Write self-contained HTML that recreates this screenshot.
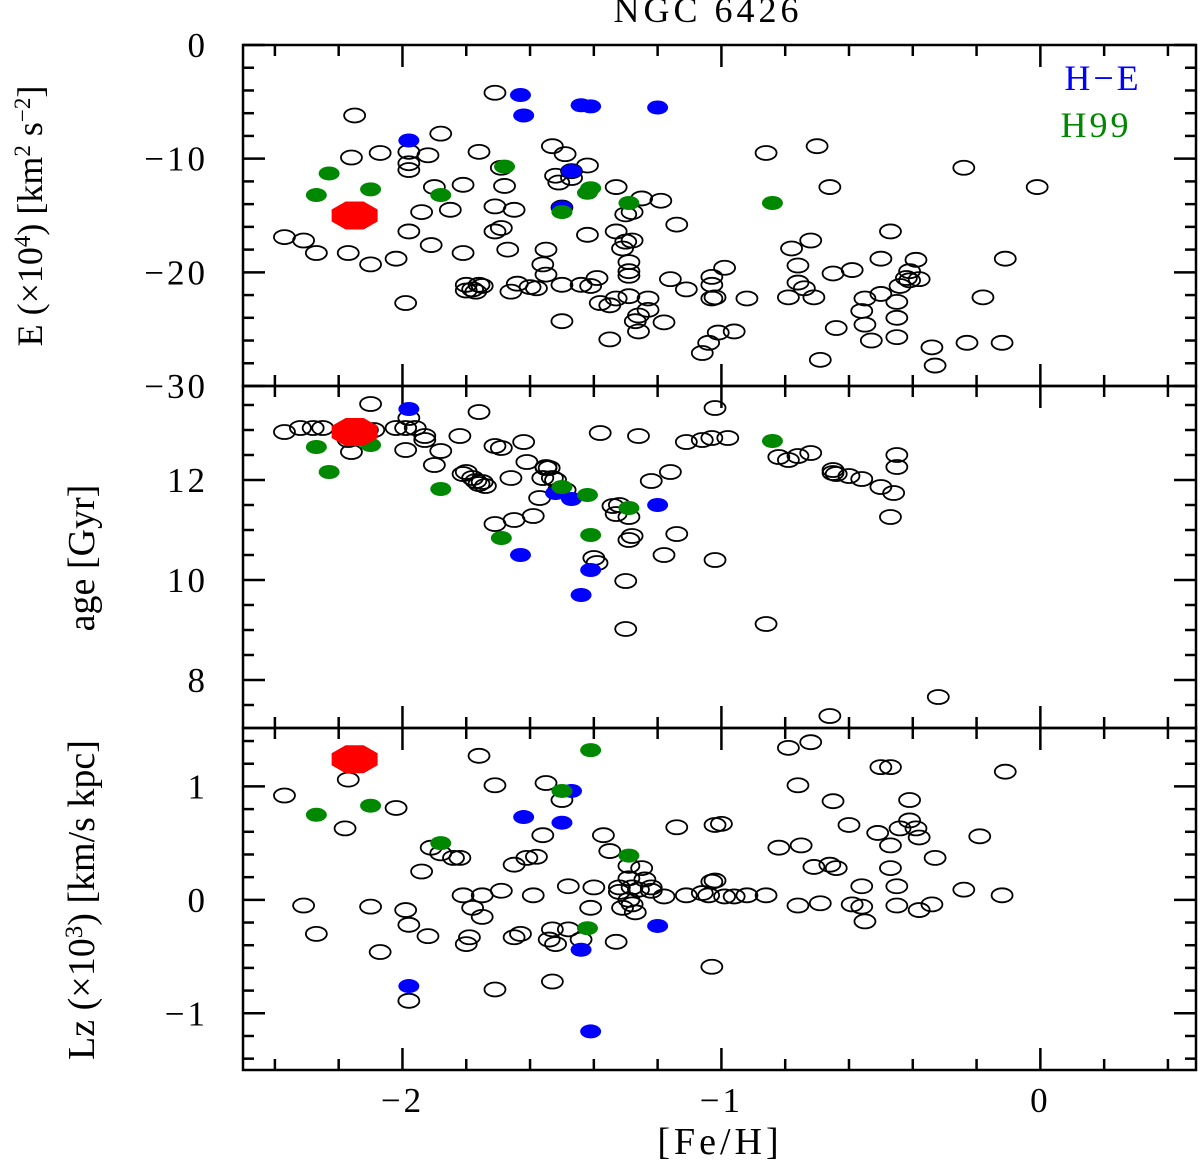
<!DOCTYPE html>
<html><head><meta charset="utf-8"><style>
html,body{margin:0;padding:0;background:#fff;}
svg{display:block;font-family:"Liberation Serif",serif;}
</style></head><body>
<svg id="chart" width="1200" height="1161" viewBox="0 0 1200 1161" xmlns="http://www.w3.org/2000/svg">
<g id="axes"></g>
<g id="marks"></g>
<text x="708" y="22" text-anchor="middle" font-size="36" letter-spacing="4">NGC 6426</text>
<text x="720" y="1154" text-anchor="middle" font-size="38" letter-spacing="4">[Fe/H]</text>
<text x="1103" y="90" text-anchor="middle" font-size="36" fill="#0000ff" letter-spacing="3">H−E</text>
<text x="1096" y="137" text-anchor="middle" font-size="36" fill="#008800" letter-spacing="3">H99</text>
<text transform="translate(42,216) rotate(-90)" text-anchor="middle" font-size="36">E (×10<tspan font-size="23" dy="-12">4</tspan><tspan dy="12">) [km</tspan><tspan font-size="23" dy="-12">2</tspan><tspan dy="12"> s</tspan><tspan font-size="23" dy="-12">−2</tspan><tspan dy="12">]</tspan></text>
<text transform="translate(94,558) rotate(-90)" text-anchor="middle" font-size="38">age [Gyr]</text>
<text transform="translate(94,900) rotate(-90)" text-anchor="middle" font-size="38">Lz (×10<tspan font-size="25" dy="-12">3</tspan><tspan dy="12">) [km/s kpc]</tspan></text>
</svg>
<script>
// ---- data: panel 1 (E) ----
const eOpenFeh=[-2.37,-2.31,-2.27,-2.15,-2.16,-2.17,-2.10,-2.07,-2.02,-1.99,-1.98,-1.98,-1.98,-1.98,-1.92,-1.88,-1.94,-1.91,-1.90,-1.85,-1.81,-1.81,-1.80,-1.80,-1.78,-1.77,-1.75,-1.76,-1.76,-1.71,-1.71,-1.71,-1.69,-1.68,-1.69,-1.67,-1.65,-1.66,-1.64,-1.60,-1.58,-1.56,-1.55,-1.55,-1.53,-1.52,-1.51,-1.50,-1.50,-1.50,-1.49,-1.47,-1.47,-1.44,-1.42,-1.42,-1.41,-1.39,-1.38,-1.35,-1.35,-1.33,-1.33,-1.33,-1.31,-1.30,-1.30,-1.29,-1.29,-1.29,-1.29,-1.28,-1.28,-1.27,-1.26,-1.26,-1.25,-1.23,-1.23,-1.18,-1.19,-1.16,-1.14,-1.11,-1.06,-1.04,-1.03,-1.03,-1.03,-1.02,-1.01,-0.99,-0.96,-0.92,-0.86,-0.79,-0.78,-0.76,-0.76,-0.74,-0.72,-0.70,-0.69,-0.71,-0.66,-0.65,-0.64,-0.59,-0.56,-0.55,-0.55,-0.53,-0.50,-0.50,-0.47,-0.45,-0.45,-0.44,-0.45,-0.41,-0.42,-0.41,-0.39,-0.38,-0.34,-0.33,-0.24,-0.23,-0.18,-0.12,-0.11,-0.01];
const eOpenE=[-16.9,-17.2,-18.3,-6.2,-9.9,-18.3,-19.3,-9.5,-18.8,-22.7,-9.4,-10.4,-11.0,-16.4,-9.7,-7.8,-14.7,-17.6,-12.5,-14.5,-18.3,-12.3,-21.1,-21.6,-21.5,-21.7,-21.2,-21.1,-9.4,-4.2,-14.2,-16.4,-16.1,-12.4,-10.8,-18.0,-14.5,-21.7,-21.0,-21.3,-21.4,-19.3,-20.2,-18.0,-8.9,-11.5,-12.1,-24.3,-21.1,-14.3,-9.6,-11.7,-11.1,-21.1,-10.6,-16.7,-21.2,-20.5,-22.7,-22.9,-25.9,-12.5,-22.3,-16.4,-17.9,-14.9,-17.3,-19.9,-22.1,-20.3,-19.1,-14.7,-17.2,-24.3,-25.2,-23.8,-13.5,-22.3,-23.3,-24.4,-13.7,-20.6,-15.8,-21.5,-27.1,-26.2,-20.4,-21.1,-22.3,-22.2,-25.3,-19.6,-25.2,-22.3,-9.5,-22.2,-17.9,-20.9,-19.4,-21.4,-17.2,-8.9,-27.7,-22.2,-12.5,-20.1,-24.9,-19.8,-23.4,-24.6,-22.3,-26.0,-21.9,-18.8,-16.4,-24.0,-22.6,-21.2,-25.7,-19.9,-20.5,-20.7,-18.9,-20.6,-26.6,-28.2,-10.8,-26.2,-22.2,-26.2,-18.8,-12.5];
const eBlueFeh=[-1.63,-1.62,-1.44,-1.41,-1.20,-1.98,-1.47,-1.50];
const eBlueE=[-4.4,-6.2,-5.3,-5.4,-5.5,-8.4,-11.1,-14.3];
const eGreenFeh=[-2.27,-2.23,-2.10,-1.88,-1.68,-1.42,-1.41,-1.29,-0.84,-1.50];
const eGreenE=[-13.2,-11.3,-12.7,-13.2,-10.7,-13.0,-12.6,-13.9,-13.9,-14.7];
const redFeh=-2.15, redE=-15.0, redAge=12.96, redLz=1.24;
// ---- data: panel 2 (age) ----
const aOpenFeh=[-2.37,-2.32,-2.28,-2.25,-2.10,-2.16,-2.17,-2.12,-2.11,-2.09,-2.02,-1.99,-1.99,-1.98,-1.96,-1.93,-1.93,-1.90,-1.88,-1.82,-1.81,-1.80,-1.78,-1.77,-1.76,-1.76,-1.75,-1.74,-1.71,-1.69,-1.71,-1.66,-1.65,-1.62,-1.61,-1.59,-1.57,-1.56,-1.55,-1.55,-1.54,-1.53,-1.52,-1.51,-1.49,-1.40,-1.39,-1.38,-1.34,-1.33,-1.32,-1.30,-1.29,-1.28,-1.26,-1.29,-1.22,-1.18,-1.16,-1.14,-1.11,-1.06,-1.03,-1.02,-1.02,-0.98,-0.86,-0.82,-0.79,-0.76,-0.72,-0.66,-0.65,-0.65,-0.64,-0.60,-0.56,-0.50,-0.46,-0.47,-0.45,-0.45,-0.32,-1.30];
const aAge=[12.96,13.04,13.04,13.04,13.52,12.56,12.8,12.86,13.0,13.0,13.04,13.04,12.6,13.24,13.04,12.88,12.8,12.3,12.58,12.88,12.12,12.16,12.04,11.98,13.36,11.92,11.96,11.88,12.68,12.64,11.12,12.04,11.2,12.76,12.36,11.28,11.64,12.04,12.26,12.24,12.24,12.04,12.0,11.8,11.8,10.44,10.34,12.94,11.48,11.32,11.5,9.98,11.26,10.88,12.88,10.8,11.98,10.5,12.16,10.92,12.76,12.8,12.84,13.44,10.4,12.84,9.12,12.46,12.4,12.48,12.54,7.28,12.2,12.14,12.12,12.08,12.02,11.86,11.74,11.26,12.5,12.26,7.66,9.02];
const aBlueFeh=[-1.98,-1.63,-1.52,-1.47,-1.20,-1.41,-1.44];
const aBlueAge=[13.42,10.5,11.74,11.62,11.5,10.2,9.7];
const aGreenFeh=[-2.27,-2.23,-2.10,-1.88,-1.69,-1.50,-1.42,-1.41,-1.29,-0.84];
const aGreenAge=[12.66,12.16,12.7,11.82,10.84,11.86,11.7,10.9,11.44,12.78];
// ---- data: panel 3 (Lz) ----
const lOpenFeh=[-2.37,-2.31,-2.27,-2.18,-2.17,-2.10,-2.07,-2.02,-1.99,-1.98,-1.98,-1.94,-1.92,-1.91,-1.88,-1.84,-1.82,-1.81,-1.80,-1.79,-1.78,-1.76,-1.75,-1.75,-1.71,-1.71,-1.69,-1.65,-1.65,-1.63,-1.61,-1.59,-1.58,-1.56,-1.55,-1.54,-1.53,-1.53,-1.52,-1.50,-1.48,-1.48,-1.44,-1.41,-1.40,-1.37,-1.35,-1.33,-1.32,-1.32,-1.31,-1.29,-1.29,-1.29,-1.28,-1.28,-1.27,-1.26,-1.25,-1.24,-1.22,-1.22,-1.18,-1.14,-1.11,-1.06,-1.04,-1.03,-1.02,-1.02,-1.00,-1.03,-0.99,-0.96,-0.92,-0.86,-0.82,-0.79,-0.76,-0.76,-0.75,-0.72,-0.71,-0.69,-0.66,-0.65,-0.64,-0.60,-0.59,-0.56,-0.56,-0.55,-0.51,-0.50,-0.47,-0.47,-0.47,-0.45,-0.45,-0.44,-0.41,-0.41,-0.39,-0.38,-0.38,-0.34,-0.33,-0.24,-0.19,-0.12,-0.11];
const lOpenLz=[0.92,-0.05,-0.30,0.63,1.06,-0.06,-0.46,0.81,-0.09,-0.22,-0.89,0.25,-0.32,0.46,0.41,0.37,0.37,0.04,-0.39,-0.33,-0.07,1.27,0.04,-0.15,1.01,-0.79,0.08,-0.33,0.31,-0.30,0.37,0.04,0.38,0.57,1.03,-0.35,-0.72,-0.26,-0.39,0.88,-0.26,0.12,-0.35,-0.07,0.11,0.57,0.43,-0.37,0.11,0.07,-0.07,0.30,0.19,0.00,0.11,-0.04,-0.11,0.09,0.28,0.18,0.08,0.11,0.03,0.64,0.04,0.06,0.04,0.16,0.17,0.66,0.67,-0.59,0.03,0.03,0.04,0.04,0.46,1.34,1.01,-0.05,0.48,1.39,0.29,-0.03,0.31,0.87,0.28,0.66,-0.04,-0.06,0.12,-0.19,0.59,1.17,1.17,0.28,0.48,0.12,-0.05,0.63,0.88,0.70,0.63,0.55,-0.09,-0.04,0.37,0.09,0.56,0.04,1.13];
const lBlueFeh=[-1.98,-1.62,-1.50,-1.47,-1.44,-1.41,-1.20];
const lBlueLz=[-0.76,0.73,0.68,0.96,-0.44,-1.16,-0.23];
const lGreenFeh=[-2.27,-2.10,-1.88,-1.50,-1.41,-1.42,-1.29];
const lGreenLz=[0.75,0.83,0.50,0.96,1.32,-0.25,0.39];
// ---- tick labels ----
const xTickVals=[-2,-1,0];
const xTickLabels=["−2","−1","0"];
const eTickVals=[0,-10,-20,-30];
const eTickLabels=["0","−10","−20","−30"];
const aTickVals=[8,10,12];
const aTickLabels=["8","10","12"];
const lTickVals=[-1,0,1];
const lTickLabels=["−1","0","1"];

const NS="http://www.w3.org/2000/svg";
const L=243,R=1196;
const X0=-2.5,X1=0.488;
const sx=v=>L+(v-X0)/(X1-X0)*(R-L);
const panels=[
 {top:45,bot:386,y0:0,y1:-30,minor:2,major:10,vals:eTickVals,labels:eTickLabels,name:'energy'},
 {top:386,bot:728,y0:13.88,y1:7.04,minor:0.5,major:2,vals:aTickVals,labels:aTickLabels,name:'age'},
 {top:728,bot:1070,y0:1.515,y1:-1.5,minor:0.2,major:1,vals:lTickVals,labels:lTickLabels,name:'lz'}
];
panels.forEach(p=>{p.sy=v=>p.top+(p.y0-v)/(p.y0-p.y1)*(p.bot-p.top);});
const axes=document.getElementById('axes'),marks=document.getElementById('marks');
function mk(tag,attrs,parent){const e=document.createElementNS(NS,tag);for(const k in attrs)e.setAttribute(k,attrs[k]);parent.appendChild(e);return e;}

panels.forEach((p,pi)=>{
  const r=mk('rect',{x:L,y:p.top,width:R-L,height:p.bot-p.top,fill:'none',stroke:'#000','stroke-width':2.5},axes);
  
  
  const lo=Math.min(p.y0,p.y1),hi=Math.max(p.y0,p.y1);
  for(let v=Math.ceil(lo/p.minor-1e-6)*p.minor;v<=hi+1e-6;v+=p.minor){
    const isMaj=Math.abs(v/p.major-Math.round(v/p.major))<1e-6;
    const len=isMaj?22:11;const y=p.sy(v);
    const t1=mk('line',{x1:L,x2:L+len,y1:y,y2:y,stroke:'#000','stroke-width':2.5},axes);
    
    
    const t2=mk('line',{x1:R,x2:R-len,y1:y,y2:y,stroke:'#000','stroke-width':2.5},axes);
    
    
  }
  p.vals.forEach((v,i)=>{
    const t=mk('text',{x:208,y:p.sy(v)+12,'text-anchor':'end','font-size':35,'letter-spacing':3},axes);
    t.textContent=p.labels[i];
    
    
  });
  for(let k=-12;k<=2;k++){
    const v=k*0.2;const isMaj=Math.abs(v-Math.round(v))<1e-6;const len=isMaj?22:11;const x=sx(v);
    if(x<L||x>R)continue;
    const a=mk('line',{x1:x,x2:x,y1:p.top,y2:p.top+len,stroke:'#000','stroke-width':2.5},axes);
    
    
    const b=mk('line',{x1:x,x2:x,y1:p.bot,y2:p.bot-len,stroke:'#000','stroke-width':2.5},axes);
    
    
  }
});
xTickVals.forEach((v,i)=>{
  const t=mk('text',{x:sx(v),y:1112,'text-anchor':'middle','font-size':35,'letter-spacing':3},axes);
  t.textContent=xTickLabels[i];
  
  
});

function pts(p,xs,ys,kind){
  xs.forEach((x,i)=>{
    let attrs={cx:sx(x),cy:p.sy(ys[i]),rx:10.5,ry:7};
    if(kind==='open'){attrs.fill='none';attrs.stroke='#000';attrs['stroke-width']=1.8;}
    else if(kind==='blue'){attrs.fill='#0000ff';}
    else if(kind==='green'){attrs.fill='#008800';}
    const e=mk('ellipse',attrs,marks);
    
    
  });
}
function red(p,x,y){
  const cx=sx(x),cy=p.sy(y),a=23,b=14,c=9,d=6;
  const e=mk('polygon',{points:[[cx-c,cy-b],[cx+c,cy-b],[cx+a,cy-d],[cx+a,cy+d],[cx+c,cy+b],[cx-c,cy+b],[cx-a,cy+d],[cx-a,cy-d]].map(q=>q.join(',')).join(' '),fill:'#ff0000'},marks);
  
  
}
pts(panels[0],eOpenFeh,eOpenE,'open');pts(panels[0],eBlueFeh,eBlueE,'blue');pts(panels[0],eGreenFeh,eGreenE,'green');red(panels[0],redFeh,redE);
pts(panels[1],aOpenFeh,aAge,'open');pts(panels[1],aBlueFeh,aBlueAge,'blue');pts(panels[1],aGreenFeh,aGreenAge,'green');red(panels[1],redFeh,redAge);
pts(panels[2],lOpenFeh,lOpenLz,'open');pts(panels[2],lBlueFeh,lBlueLz,'blue');pts(panels[2],lGreenFeh,lGreenLz,'green');red(panels[2],redFeh,redLz);
</script>
</body></html>
